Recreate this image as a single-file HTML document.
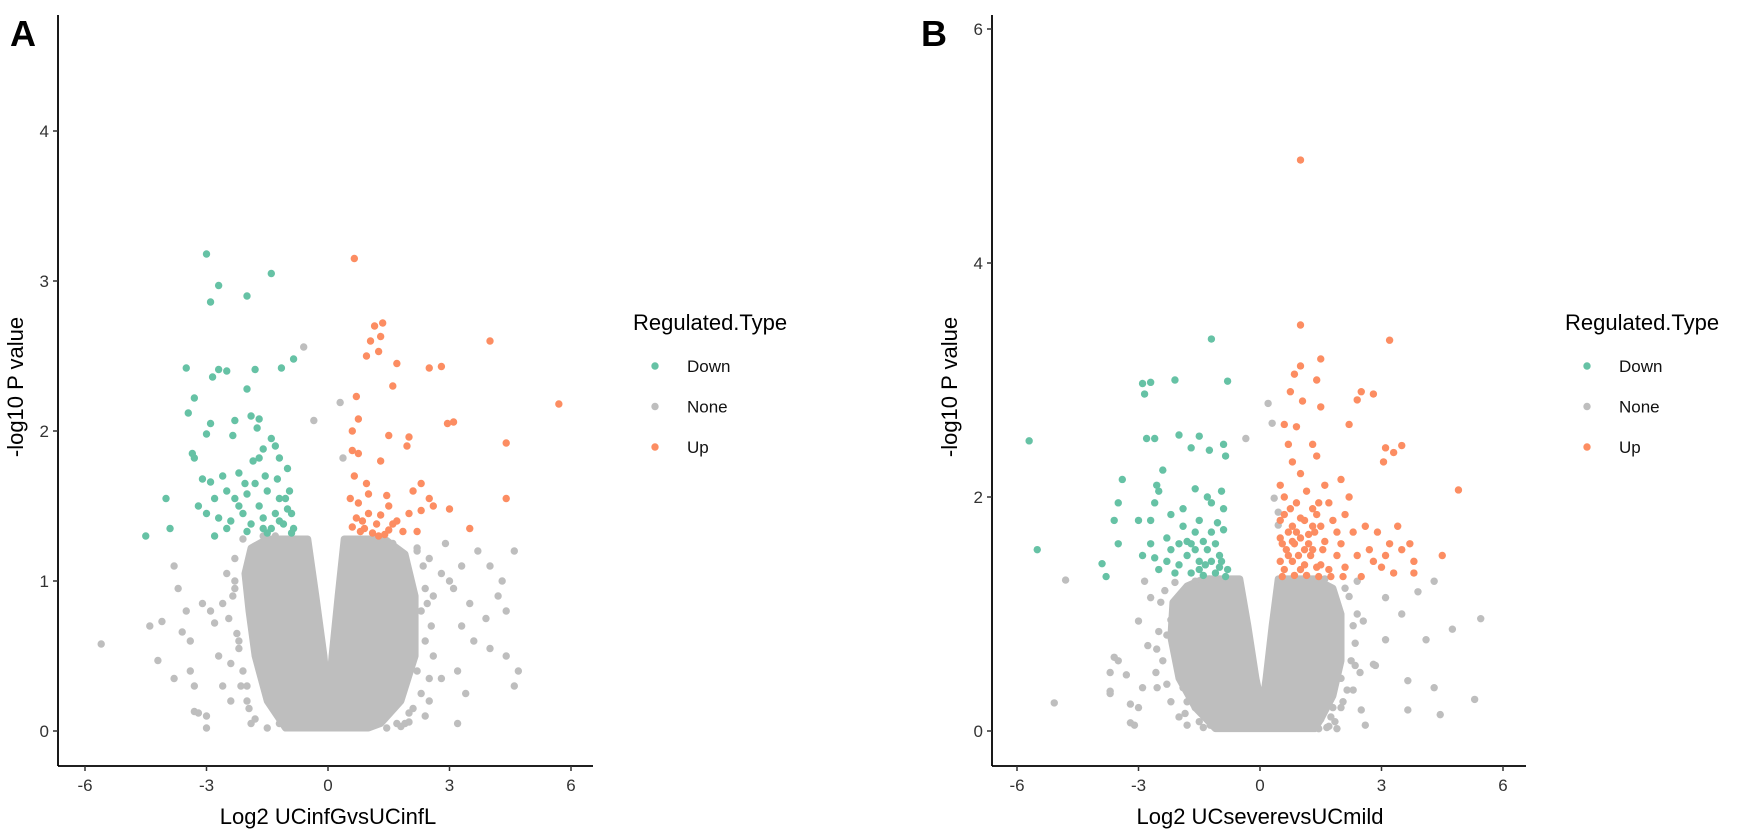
<!DOCTYPE html>
<html><head><meta charset="utf-8"><style>
html,body{margin:0;padding:0;background:#fff;}
svg{display:block;font-family:"Liberation Sans",sans-serif;}
</style></head><body>
<svg id="fig" width="1748" height="835" viewBox="0 0 1748 835">
<text x="10" y="46" font-size="36" font-weight="bold">A</text>
<text x="921" y="46" font-size="36" font-weight="bold">B</text>
</svg>
<script>
// ---------- Panel A data ----------
const aDownX=[-3.0,-1.4,-2.7,-2.9,-2.0,-3.5,-2.7,-2.5,-2.85,-1.8,-1.15,-0.85,-2.0,-3.3,-3.45,-2.9,-3.0,-3.35,-3.3,-2.3,-2.35,-1.9,-1.7,-1.75,-3.1,-2.9,-2.2,-1.6,-1.7,-1.4,-1.3,-1.2,-1.0,-2.8,-2.5,-2.3,-2.0,-1.8,-1.5,-1.2,-0.95,-3.2,-3.0,-2.7,-2.4,-2.1,-1.9,-1.6,-1.4,-1.1,-0.85,-1.3,-1.7,-1.0,-2.5,-2.0,-1.5,-0.9,-4.0,-3.9,-4.5,-2.8,-1.85,-1.55,-1.25,-1.05,-2.6,-2.05,-1.2,-0.9,-1.6,-2.2];
const aDownY=[3.18,3.05,2.97,2.86,2.9,2.42,2.41,2.4,2.36,2.41,2.42,2.48,2.28,2.22,2.12,2.05,1.98,1.85,1.82,2.07,1.97,2.1,2.08,2.02,1.68,1.66,1.72,1.88,1.82,1.95,1.9,1.82,1.75,1.55,1.6,1.55,1.58,1.65,1.6,1.55,1.6,1.5,1.45,1.42,1.4,1.45,1.38,1.42,1.35,1.38,1.35,1.45,1.5,1.48,1.35,1.33,1.32,1.32,1.55,1.35,1.3,1.3,1.8,1.7,1.68,1.55,1.7,1.65,1.4,1.45,1.35,1.5];
const aUpX=[0.65,1.15,1.35,1.05,1.3,1.25,0.95,1.7,2.5,2.8,4.0,0.7,1.6,5.7,0.75,0.6,1.5,2.0,2.95,3.1,0.6,0.75,1.3,1.95,2.3,4.4,0.95,0.55,0.75,1.0,1.5,1.45,2.5,0.7,1.0,1.3,1.7,2.0,2.3,2.6,0.6,0.9,1.2,1.5,1.85,2.2,0.8,1.1,1.4,4.4,3.0,3.5,2.1,0.65,1.25,0.85,1.6];
const aUpY=[3.15,2.7,2.72,2.6,2.63,2.53,2.5,2.45,2.42,2.43,2.6,2.23,2.3,2.18,2.08,2.0,1.97,1.96,2.05,2.06,1.87,1.85,1.8,1.9,1.65,1.92,1.65,1.55,1.52,1.58,1.5,1.57,1.55,1.42,1.45,1.44,1.4,1.45,1.47,1.5,1.36,1.35,1.38,1.34,1.33,1.33,1.33,1.32,1.31,1.55,1.48,1.35,1.6,1.7,1.3,1.4,1.38];
const aNoneX=[-5.6,-4.4,-4.1,-4.2,-3.8,-3.7,-3.6,-3.4,-3.3,-3.2,-3.0,-3.0,-3.3,-2.9,-3.1,-3.5,-3.8,-3.4,-2.7,-2.6,-2.4,-2.6,-2.8,-2.2,-2.3,-2.5,-1.9,-2.0,-2.1,-0.6,-0.35,0.3,0.37,2.2,2.5,2.8,3.0,3.1,3.5,3.3,3.6,3.9,4.0,4.3,4.2,4.6,4.4,4.0,4.7,4.6,4.4,3.2,2.8,2.5,2.6,3.2,3.4,2.3,2.6,3.7,3.3,2.9,2.4,1.9,
 -2.3,-2.35,-2.25,-2.4,-2.15,-2.1,-1.95,-1.8,-1.7,-1.5,-1.35,-1.2,-2.2,-2.0,-1.6,-1.3,-2.45,-2.3,
 2.35,2.45,2.4,2.5,2.3,2.2,2.1,2.0,1.8,1.6,1.45,1.3,2.55,2.4,2.2,2.0,1.7,1.5];
const aNoneY=[0.58,0.7,0.73,0.47,1.1,0.95,0.66,0.6,0.3,0.12,0.1,0.02,0.13,0.8,0.85,0.8,0.35,0.4,0.5,0.3,0.2,0.85,0.72,0.6,0.95,1.05,0.05,0.3,0.4,2.56,2.07,2.19,1.82,1.2,1.15,1.05,1.0,0.95,0.85,0.7,0.6,0.75,0.55,1.0,0.9,1.2,0.8,1.1,0.4,0.3,0.5,0.05,0.35,0.2,0.5,0.4,0.25,0.8,0.9,1.2,1.1,1.25,0.1,0.05,
 1.15,0.9,0.65,0.45,0.3,1.28,0.15,0.08,1.22,0.02,1.26,0.05,0.55,0.2,1.3,1.3,0.75,1.0,
 1.1,0.85,0.6,0.35,0.25,1.22,0.15,0.06,0.03,1.25,0.02,1.28,0.7,0.95,0.4,0.12,0.05,1.2];
const aCoreX=[-1.05,-1.5,-1.8,-1.95,-2.05,-1.9,-1.5,-0.5,-0.3,-0.1,0.0,0.1,0.25,0.4,1.4,1.9,2.15,2.15,1.8,1.3,1.0];
const aCoreY=[0.02,0.2,0.5,0.8,1.05,1.22,1.28,1.28,0.9,0.5,0.2,0.5,0.9,1.28,1.28,1.18,0.9,0.5,0.2,0.05,0.02];
const aYTicks=[0,1,2,3,4];
const aXTicks=[-6,-3,0,3,6];

// ---------- Panel B data ----------
const bDownX=[-5.7,-5.5,-3.9,-3.8,-3.5,-3.6,-3.5,-3.4,-2.9,-2.7,-2.85,-2.1,-1.2,-0.8,-2.8,-2.6,-2.0,-1.5,-0.9,-1.7,-1.25,-0.85,-2.4,-2.5,-2.55,-2.6,-1.6,-1.3,-1.2,-0.95,-3.0,-2.7,-2.2,-1.9,-1.5,-1.05,-2.3,-2.0,-1.7,-1.4,-1.1,-0.9,-2.9,-2.6,-2.3,-2.0,-1.8,-1.5,-1.2,-0.95,-2.5,-2.1,-1.7,-1.4,-1.1,-0.8,-2.7,-1.9,-1.6,-1.3,-1.0,-0.85,-1.5,-1.2,-2.2,-1.6,-0.9,-1.35,-1.0,-1.8];
const bDownY=[2.48,1.55,1.43,1.32,1.6,1.8,1.95,2.15,2.97,2.98,2.88,3.0,3.35,2.99,2.5,2.5,2.53,2.52,2.45,2.42,2.4,2.35,2.23,2.05,2.1,1.95,2.07,2.0,1.95,2.05,1.8,1.8,1.85,1.75,1.8,1.78,1.65,1.6,1.6,1.62,1.6,1.72,1.5,1.48,1.45,1.42,1.5,1.45,1.45,1.45,1.38,1.35,1.35,1.33,1.35,1.38,1.6,1.9,1.7,1.55,1.5,1.32,1.38,1.7,1.55,1.55,1.9,1.42,1.4,1.62];
const bUpX=[1.0,1.0,3.2,1.0,1.5,0.85,1.4,0.75,1.05,1.5,2.5,2.8,2.4,0.6,0.9,2.2,0.7,1.3,1.4,3.1,3.3,3.5,3.05,4.9,0.8,1.0,1.6,2.0,2.2,0.5,0.6,0.9,1.3,1.7,2.1,2.3,2.6,2.9,3.2,3.5,3.8,4.5,0.5,0.8,1.1,1.5,1.9,0.55,0.85,1.2,1.55,1.9,2.4,2.8,3.0,3.3,3.8,0.5,0.8,1.1,1.4,1.7,2.1,2.5,0.55,0.85,1.15,1.45,1.75,2.05,0.65,0.95,1.25,0.7,1.0,1.35,1.6,0.6,1.0,1.3,2.7,3.1,2.0,1.8,0.75,1.15,1.45,3.4,3.7,0.5,0.7,0.9,1.1,1.3,1.5,0.6,0.8,1.0,1.2,1.4];
const bUpY=[4.88,3.47,3.34,3.12,3.18,3.05,3.0,2.9,2.82,2.77,2.9,2.88,2.83,2.62,2.6,2.62,2.45,2.45,2.35,2.42,2.38,2.44,2.3,2.06,2.3,2.2,2.1,2.15,2.0,2.1,2.0,1.95,1.9,1.95,1.85,1.7,1.75,1.7,1.6,1.55,1.45,1.5,1.8,1.75,1.8,1.75,1.7,1.6,1.6,1.6,1.55,1.5,1.5,1.45,1.4,1.35,1.35,1.45,1.45,1.42,1.4,1.38,1.4,1.32,1.32,1.33,1.33,1.32,1.32,1.32,1.55,1.5,1.5,1.7,1.65,1.7,1.62,1.38,1.38,1.55,1.55,1.5,1.6,1.8,1.9,2.05,1.95,1.75,1.6,1.65,1.5,1.7,1.55,1.75,1.42,1.85,1.62,1.82,1.68,1.85];
const bNoneX=[-4.8,-5.08,-3.7,-3.6,-3.7,-3.3,-3.2,-3.2,-2.77,-2.57,-2.9,-2.54,-1.9,-1.8,-1.6,-1.23,1.65,1.5,1.8,2.05,2.3,2.5,2.6,2.47,2.35,2.85,-3.1,-3.0,-3.7,-3.5,-3.0,-2.85,-2.7,-2.3,-2.0,2.4,3.1,3.5,3.9,4.3,4.1,4.75,5.45,3.65,4.3,4.45,5.3,3.65,2.8,3.1,2.55,0.45,0.3,0.2,-0.35,0.45,0.35,
 -2.45,-2.5,-2.4,-2.3,-2.2,-2.0,-1.8,-1.6,-1.4,-2.35,-2.1,-1.85,-1.5,-1.25,-2.55,-2.2,
 2.2,2.3,2.25,2.15,2.0,1.85,1.7,1.5,2.35,2.1,1.9,1.6,2.4,2.0,1.75,1.45];
const bNoneY=[1.29,0.24,0.5,0.63,0.34,0.48,0.23,0.07,0.73,0.5,0.37,0.37,0.37,0.25,0.2,0.05,0.03,0.1,0.2,0.25,0.35,0.18,0.05,0.5,0.56,0.56,0.05,0.2,0.32,0.6,0.94,1.28,1.14,0.82,0.64,1.28,1.14,1.0,1.19,1.28,0.78,0.87,0.96,0.43,0.37,0.14,0.27,0.18,0.57,0.78,0.94,1.76,2.63,2.8,2.5,1.87,1.99,
 1.1,0.85,0.6,0.4,0.25,0.12,0.05,1.28,0.03,1.2,1.27,0.15,0.08,1.3,0.7,0.95,
 1.15,0.9,0.6,0.35,0.2,0.08,0.04,1.28,0.75,1.22,0.02,1.3,1.0,0.45,0.12,0.02];
const bCoreX=[-1.1,-1.6,-2.0,-2.2,-2.15,-1.8,-1.4,-0.5,-0.3,-0.1,0.05,0.15,0.3,0.45,1.35,1.8,2.0,2.0,1.8,1.5,1.35];
const bCoreY=[0.02,0.2,0.45,0.8,1.1,1.24,1.3,1.3,0.9,0.45,0.2,0.45,0.9,1.3,1.3,1.22,1.0,0.6,0.3,0.1,0.02];
const bYTicks=[0,2,4,6];
const bXTicks=[-6,-3,0,3,6];

const legendLabels=["Down","None","Up"];
const COL={Down:"#66c2a5",None:"#bebebe",Up:"#fc8d62"};
const NS="http://www.w3.org/2000/svg";
const svg=document.getElementById('fig');
function mk(tag,attrs,parent){const e=document.createElementNS(NS,tag);for(const k in attrs)e.setAttribute(k,attrs[k]);(parent||svg).appendChild(e);return e;}

function panel(cfg){
  const g=mk('g',{});
  
  
  const sx=v=>cfg.x0+v*cfg.kx, sy=v=>cfg.y0-v*cfg.ky;
  let pts=cfg.coreX.map((v,i)=>sx(v)+','+sy(cfg.coreY[i])).join(' ');
  const core=mk('polygon',{points:pts,fill:COL.None,stroke:COL.None,'stroke-width':7,'stroke-linejoin':'round'},g);
  
  
  const series=[["None",cfg.noneX,cfg.noneY],["Down",cfg.downX,cfg.downY],["Up",cfg.upX,cfg.upY]];
  series.forEach(([k,xs,ys])=>{
    xs.forEach((v,i)=>{
      const c=mk('circle',{cx:sx(v),cy:sy(ys[i]),r:3.7,fill:COL[k]},g);
      
      
    });
  });
  const ya=mk('line',{x1:cfg.axL,y1:15,x2:cfg.axL,y2:cfg.axB,stroke:'#000','stroke-width':1.8},g);
  
  
  const xa=mk('line',{x1:cfg.axL,y1:cfg.axB,x2:cfg.axR,y2:cfg.axB,stroke:'#000','stroke-width':1.8},g);
  
  
  cfg.yt.forEach(v=>{
    mk('line',{x1:cfg.axL-5,y1:sy(v),x2:cfg.axL,y2:sy(v),stroke:'#333','stroke-width':1.5},g);
    const t=mk('text',{x:cfg.axL-9,y:sy(v)+6,'text-anchor':'end','font-size':17,fill:'#333'},g);
    t.textContent=v;
    
    
  });
  cfg.xt.forEach(v=>{
    mk('line',{x1:sx(v),y1:cfg.axB,x2:sx(v),y2:cfg.axB+5,stroke:'#333','stroke-width':1.5},g);
    const t=mk('text',{x:sx(v),y:cfg.axB+25,'text-anchor':'middle','font-size':17,fill:'#333'},g);
    t.textContent=v;
    
    
  });
  const xt=mk('text',{x:sx(0),y:824,'text-anchor':'middle','font-size':22},g);
  xt.textContent=cfg.xtitle;
  
  
  const yt=mk('text',{x:0,y:0,'text-anchor':'middle','font-size':22,transform:`translate(${cfg.axL-35},387) rotate(-90)`},g);
  yt.textContent='-log10 P value';
  
  
  const lt=mk('text',{x:cfg.legX,y:330,'font-size':22},g);
  lt.textContent='Regulated.Type';
  
  
  legendLabels.forEach((k,i)=>{
    const y=366+i*40.5;
    const d=mk('circle',{cx:cfg.legX+22,cy:y,r:3.7,fill:COL[k]},g);
    
    
    const t=mk('text',{x:cfg.legX+54,y:y+6,'font-size':17,fill:'#111'},g);
    t.textContent=k;
    
    
  });
}
panel({name:'panel-a',x0:328,kx:40.5,y0:731,ky:150,axL:58,axB:766,axR:593,
  coreX:aCoreX,coreY:aCoreY,noneX:aNoneX,noneY:aNoneY,downX:aDownX,downY:aDownY,upX:aUpX,upY:aUpY,
  yt:aYTicks,xt:aXTicks,xtitle:'Log2 UCinfGvsUCinfL',legX:633});
panel({name:'panel-b',x0:1260,kx:40.5,y0:731,ky:117,axL:992,axB:766,axR:1526,
  coreX:bCoreX,coreY:bCoreY,noneX:bNoneX,noneY:bNoneY,downX:bDownX,downY:bDownY,upX:bUpX,upY:bUpY,
  yt:bYTicks,xt:bXTicks,xtitle:'Log2 UCseverevsUCmild',legX:1565});
</script>
</body></html>
